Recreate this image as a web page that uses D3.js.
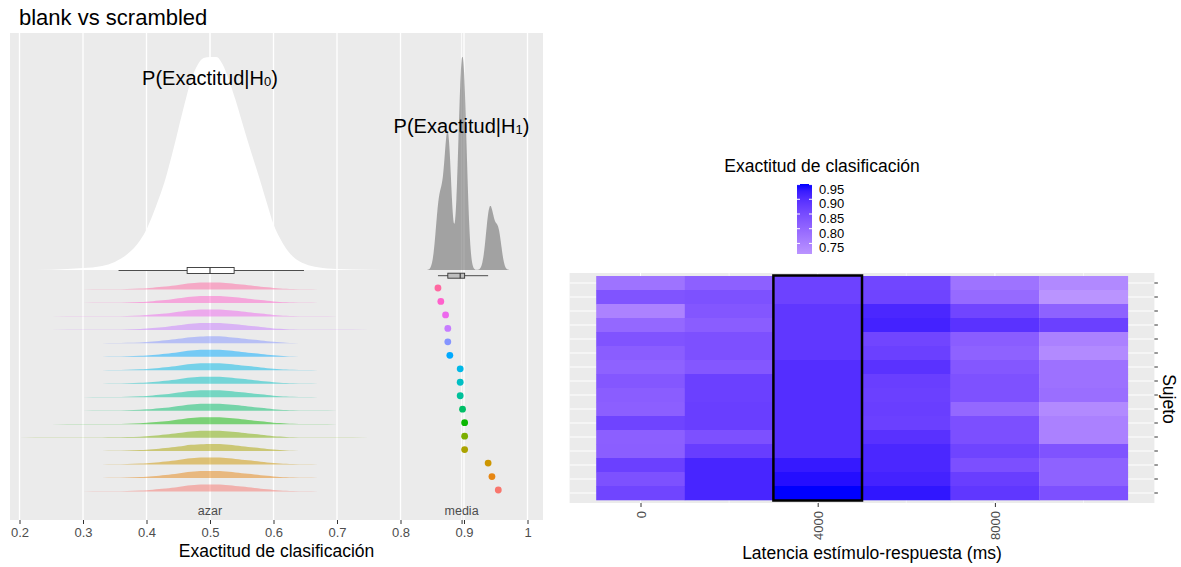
<!DOCTYPE html>
<html>
<head>
<meta charset="utf-8">
<script src="https://cdn.jsdelivr.net/npm/d3@7"></script>
<style>
  body { margin: 0; background: #fff; }
  text { font-family: "Liberation Sans", Arial, sans-serif; }
</style>
</head>
<body>
<svg id="chart" width="1181" height="567"></svg>
<script>
// ---- data ----
// subjects, ordered top -> bottom as in the ridge panel
var subjects = ["S01","S02","S03","S04","S05","S06","S07","S08","S09","S10","S11","S12","S13","S14","S15","S16"];
// observed classification accuracy per subject (dots)
var subjectAcc = [0.859, 0.8635, 0.871, 0.8745, 0.8745, 0.8777, 0.894, 0.894, 0.894, 0.8977, 0.901, 0.901, 0.901, 0.938, 0.944, 0.954];
// null (permutation) density: x grid and relative height
var nullX = [0.20, 0.25, 0.30, 0.33, 0.35, 0.37, 0.39, 0.40, 0.41, 0.42, 0.43, 0.44, 0.45, 0.46, 0.47, 0.48, 0.49, 0.50, 0.51, 0.52, 0.53, 0.54, 0.55, 0.56, 0.57, 0.58, 0.59, 0.60, 0.61, 0.62, 0.63, 0.65, 0.67, 0.70, 0.75, 0.80];
var nullH = [0, 0.0015, 0.009, 0.019, 0.038, 0.075, 0.14, 0.19, 0.26, 0.34, 0.43, 0.54, 0.66, 0.78, 0.89, 0.96, 0.995, 1, 1, 0.965, 0.89, 0.80, 0.70, 0.60, 0.505, 0.41, 0.31, 0.215, 0.15, 0.10, 0.065, 0.028, 0.013, 0.005, 0.001, 0];
// boxplot stats of null distribution: min, q1, median, q3, max
var nullBox = [0.356, 0.464, 0.5, 0.538, 0.648];
var xTicks = [0.2, 0.3, 0.4, 0.5, 0.6, 0.7, 0.8, 0.9, 1];
var chanceLevel = 0.5;

// heatmap: latency (ms) x subject (rows top -> bottom)
var latencies = [0, 2000, 4000, 6000, 8000, 10000];
var highlightLatency = 4000;
var acc0ms     = [0.777, 0.835, 0.747, 0.797, 0.836, 0.817, 0.809, 0.828, 0.818, 0.814, 0.864, 0.814, 0.815, 0.870, 0.840, 0.862];
var acc2000ms  = [0.812, 0.840, 0.831, 0.818, 0.841, 0.841, 0.829, 0.870, 0.870, 0.873, 0.873, 0.841, 0.875, 0.914, 0.914, 0.914];
var acc4000ms  = [0.867, 0.867, 0.886, 0.886, 0.886, 0.886, 0.901, 0.901, 0.901, 0.901, 0.901, 0.901, 0.901, 0.930, 0.941, 0.952];
var acc6000ms  = [0.860, 0.864, 0.911, 0.918, 0.861, 0.870, 0.894, 0.873, 0.870, 0.873, 0.870, 0.895, 0.911, 0.911, 0.918, 0.934];
var acc8000ms  = [0.777, 0.794, 0.861, 0.894, 0.818, 0.809, 0.829, 0.839, 0.839, 0.797, 0.843, 0.843, 0.864, 0.843, 0.873, 0.886];
var acc10000ms = [0.735, 0.714, 0.809, 0.870, 0.749, 0.732, 0.780, 0.780, 0.786, 0.732, 0.749, 0.749, 0.836, 0.809, 0.809, 0.841];
var heatTicks = [0, 4000, 8000];
var legendTicks = [0.75, 0.80, 0.85, 0.90, 0.95];

// ggplot hue palette, top -> bottom
var subjectColors = ["#FF68A1","#FF61CC","#ED68ED","#C77CFF","#8494FF","#00A9FF","#00B8E7","#00BFC4","#00C19A","#00BE67","#0CB702","#7CAE00","#ABA300","#CD9600","#E68613","#F8766D"];

var svg = d3.select("#chart");
var font = "Liberation Sans, Arial, sans-serif";

svg.append("text").attr("x", 19).attr("y", 25)
  .style("font-size", "22px").text("blank vs scrambled");

// ================= left panel =================
var L = {left: 10, right: 543, top: 33, bottom: 520};
var x = d3.scaleLinear().domain([0.2, 1]).range([19.5, 527.5]);

svg.append("rect").attr("x", L.left).attr("y", L.top)
  .attr("width", L.right - L.left).attr("height", L.bottom - L.top)
  .attr("fill", "#EBEBEB");

svg.append("g").selectAll("line").data(xTicks).join("line")
  .attr("x1", d => x(d)).attr("x2", d => x(d))
  .attr("y1", L.top).attr("y2", L.bottom)
  .attr("stroke", "#fff").attr("stroke-width", 1.3);

var media = d3.mean(subjectAcc);
svg.append("g").selectAll("line").data([chanceLevel, media]).join("line")
  .attr("x1", d => x(d)).attr("x2", d => x(d))
  .attr("y1", L.top).attr("y2", L.bottom)
  .attr("stroke", "#fff").attr("stroke-width", 0.8);

// big densities
var yDens = d3.scaleLinear().domain([0, 1]).range([270, 57]);
var nullPts = nullX.map((v, i) => [v, nullH[i]]);
var area = d3.area().x(d => x(d[0])).y0(yDens(0)).y1(d => yDens(d[1])).curve(d3.curveMonotoneX);
svg.append("path").datum(nullPts).attr("d", area).attr("fill", "#fff");

// H1: kernel density of subject accuracies
var bw = 0.005;
var grid = d3.range(0.83, 0.985, 0.001);
var kde = grid.map(g => [g, d3.sum(subjectAcc, v => Math.exp(-0.5 * Math.pow((g - v) / bw, 2)))]);
var kmax = d3.max(kde, d => d[1]);
kde = kde.map(d => [d[0], d[1] / kmax]);
svg.append("path").datum(kde).attr("d", area)
  .attr("fill", "#595959").attr("fill-opacity", 0.5);

// boxplots
function boxplot(stats, cy, h, fill) {
  var g = svg.append("g");
  g.append("line").attr("x1", x(stats[0])).attr("x2", x(stats[4]))
    .attr("y1", cy).attr("y2", cy).attr("stroke", "#4d4d4d").attr("stroke-width", 1);
  g.append("rect").attr("x", x(stats[1])).attr("y", cy - h / 2)
    .attr("width", x(stats[3]) - x(stats[1])).attr("height", h)
    .attr("fill", fill).attr("stroke", "#333").attr("stroke-width", 0.9);
  g.append("line").attr("x1", x(stats[2])).attr("x2", x(stats[2]))
    .attr("y1", cy - h / 2).attr("y2", cy + h / 2).attr("stroke", "#333").attr("stroke-width", 1.1);
}
boxplot(nullBox, 270.5, 6, "#fff");
var sorted = subjectAcc.slice().sort(d3.ascending);
var q1 = d3.quantile(sorted, 0.25), q2 = d3.quantile(sorted, 0.5), q3 = d3.quantile(sorted, 0.75);
var iqr = q3 - q1;
var wLo = d3.min(sorted.filter(v => v >= q1 - 1.5 * iqr));
var wHi = d3.max(sorted.filter(v => v <= q3 + 1.5 * iqr));
boxplot([wLo, q1, q2, q3, wHi], 275.7, 5, "#BEBEBE");

// ridges per subject
var ySub = d3.scalePoint().domain(subjects).range([288, 490]);
var ridgeH = d3.scaleLinear().domain([0, 1]).range([0, 7]);
subjects.forEach(function(s, i) {
  var base = ySub(s) + 1.5;
  var ridge = d3.area().x(d => x(d[0])).y0(base).y1(d => base - ridgeH(d[1])).curve(d3.curveMonotoneX);
  svg.append("path").datum(nullPts).attr("d", ridge)
    .attr("fill", subjectColors[i]).attr("fill-opacity", 0.5);
});

svg.append("g").selectAll("circle").data(subjects).join("circle")
  .attr("cx", (d, i) => x(subjectAcc[i]))
  .attr("cy", d => ySub(d))
  .attr("r", 3.4)
  .attr("fill", (d, i) => subjectColors[i]);

// labels for H0 / H1
function hLabel(cx, cy, sub) {
  var t = svg.append("text").attr("x", cx).attr("y", cy)
    .attr("text-anchor", "middle").attr("dominant-baseline", "middle")
    .style("font-size", "20px");
  t.append("tspan").text("P(Exactitud|H");
  t.append("tspan").attr("dy", 3).style("font-size", "13px").text(sub);
  t.append("tspan").attr("dy", -3).text(")");
}
hLabel(210, 80, "0");
hLabel(461.5, 128, "1");

// azar / media labels
svg.append("g").selectAll("text").data([[chanceLevel, "azar"], [media, "media"]]).join("text")
  .attr("x", d => x(d[0])).attr("y", 515)
  .attr("text-anchor", "middle").style("font-size", "12.5px").attr("fill", "#4D4D4D")
  .text(d => d[1]);

// x axis
var xAxis = svg.append("g").attr("transform", "translate(0," + L.bottom + ")")
  .call(d3.axisBottom(x).tickValues(xTicks.concat([chanceLevel, media]))
    .tickFormat((d, i) => i < xTicks.length ? (d === 1 ? "1" : d.toFixed(1)) : "")
    .tickSize(4).tickPadding(4));
xAxis.select(".domain").remove();
xAxis.selectAll("line").attr("stroke", "#333");
xAxis.selectAll("text").style("font-size", "13px").attr("fill", "#4D4D4D").style("font-family", font);

svg.append("text").attr("x", 276.5).attr("y", 557).attr("text-anchor", "middle")
  .style("font-size", "17.5px").text("Exactitud de clasificación");

// ================= heatmap =================
var accByLatency = [acc0ms, acc2000ms, acc4000ms, acc6000ms, acc8000ms, acc10000ms];
var cells = [];
latencies.forEach(function(lat, j) {
  subjects.forEach(function(s, i) { cells.push({lat: lat, subj: s, acc: accByLatency[j][i]}); });
});
var P = {top: 273, bottom: 503};
var hx = d3.scaleLinear().domain([0, 4000]).range([640.5, 817.7]);
var step = latencies[1] - latencies[0];
var pad = 0.05 * (latencies[latencies.length - 1] + step);
P.left = hx(latencies[0] - step / 2 - pad);
P.right = hx(latencies[latencies.length - 1] + step / 2 + pad);
var hy = d3.scaleBand().domain(subjects).range([276, 500]);
var ext = d3.extent(cells, d => d.acc);
var color = d3.scaleLinear().domain(ext).range(["#BA94FF", "#0000FF"]).interpolate(d3.interpolateLab);

svg.append("rect").attr("x", P.left).attr("y", P.top)
  .attr("width", P.right - P.left).attr("height", P.bottom - P.top).attr("fill", "#EBEBEB");
svg.append("g").selectAll("line").data(latencies).join("line")
  .attr("x1", d => hx(d)).attr("x2", d => hx(d)).attr("y1", P.top).attr("y2", P.bottom)
  .attr("stroke", "#fff").attr("stroke-width", d => heatTicks.indexOf(d) >= 0 ? 1.1 : 0.55);
svg.append("g").selectAll("line").data(subjects).join("line")
  .attr("x1", P.left).attr("x2", P.right)
  .attr("y1", d => hy(d) + hy.bandwidth() / 2).attr("y2", d => hy(d) + hy.bandwidth() / 2)
  .attr("stroke", "#fff").attr("stroke-width", 1.1);

svg.append("g").selectAll("rect").data(cells).join("rect")
  .attr("x", d => hx(d.lat - step / 2)).attr("y", d => hy(d.subj))
  .attr("width", hx(step) - hx(0) + 0.3).attr("height", hy.bandwidth() + 0.3)
  .attr("fill", d => color(d.acc));

svg.append("rect")
  .attr("x", hx(highlightLatency - step / 2)).attr("y", hy(subjects[0]) - 0.5)
  .attr("width", hx(step) - hx(0)).attr("height", hy.bandwidth() * subjects.length + 1)
  .attr("fill", "none").attr("stroke", "#000").attr("stroke-width", 2.5);

// x axis, rotated labels
var hAxis = svg.append("g").attr("transform", "translate(0," + P.bottom + ")")
  .call(d3.axisBottom(hx).tickValues(heatTicks).tickFormat(d3.format("d")).tickSize(4).tickPadding(4));
hAxis.select(".domain").remove();
hAxis.selectAll("line").attr("stroke", "#333");
hAxis.selectAll("text").attr("transform", "rotate(-90)")
  .attr("x", -8).attr("y", 0).attr("dy", "0.35em").attr("text-anchor", "end")
  .style("font-size", "13px").attr("fill", "#4D4D4D").style("font-family", font);

svg.append("text").attr("x", 872).attr("y", 559).attr("text-anchor", "middle")
  .style("font-size", "17.5px").text("Latencia estímulo-respuesta (ms)");

// right y axis (no labels)
svg.append("g").selectAll("line").data(subjects).join("line")
  .attr("x1", P.right).attr("x2", P.right + 3.5)
  .attr("y1", d => hy(d) + hy.bandwidth() / 2).attr("y2", d => hy(d) + hy.bandwidth() / 2)
  .attr("stroke", "#333");
svg.append("text").attr("transform", "translate(1168,399) rotate(90)")
  .attr("text-anchor", "middle").attr("dominant-baseline", "middle")
  .style("font-size", "17.5px").text("Sujeto");

// legend
svg.append("text").attr("x", 822).attr("y", 172).attr("text-anchor", "middle")
  .style("font-size", "17.5px").text("Exactitud de clasificación");
var legY = d3.scaleLinear().domain(ext).range([254, 184]);
var grad = svg.append("defs").append("linearGradient").attr("id", "legGrad")
  .attr("x1", 0).attr("x2", 0).attr("y1", 1).attr("y2", 0);
d3.range(0, 1.0001, 0.1).forEach(function(t) {
  grad.append("stop").attr("offset", t).attr("stop-color", color(ext[0] + t * (ext[1] - ext[0])));
});
svg.append("rect").attr("x", 797).attr("y", 184).attr("width", 15).attr("height", 70)
  .attr("fill", "url(#legGrad)");
var lt = svg.append("g");
legendTicks.forEach(function(v) {
  lt.append("line").attr("x1", 797).attr("x2", 800).attr("y1", legY(v)).attr("y2", legY(v))
    .attr("stroke", "#fff").attr("stroke-width", 1);
  lt.append("line").attr("x1", 809).attr("x2", 812).attr("y1", legY(v)).attr("y2", legY(v))
    .attr("stroke", "#fff").attr("stroke-width", 1);
  lt.append("text").attr("x", 819).attr("y", legY(v) + 5.5).attr("dominant-baseline", "middle")
    .style("font-size", "13px").text(v.toFixed(2));
});
</script>
</body>
</html>
